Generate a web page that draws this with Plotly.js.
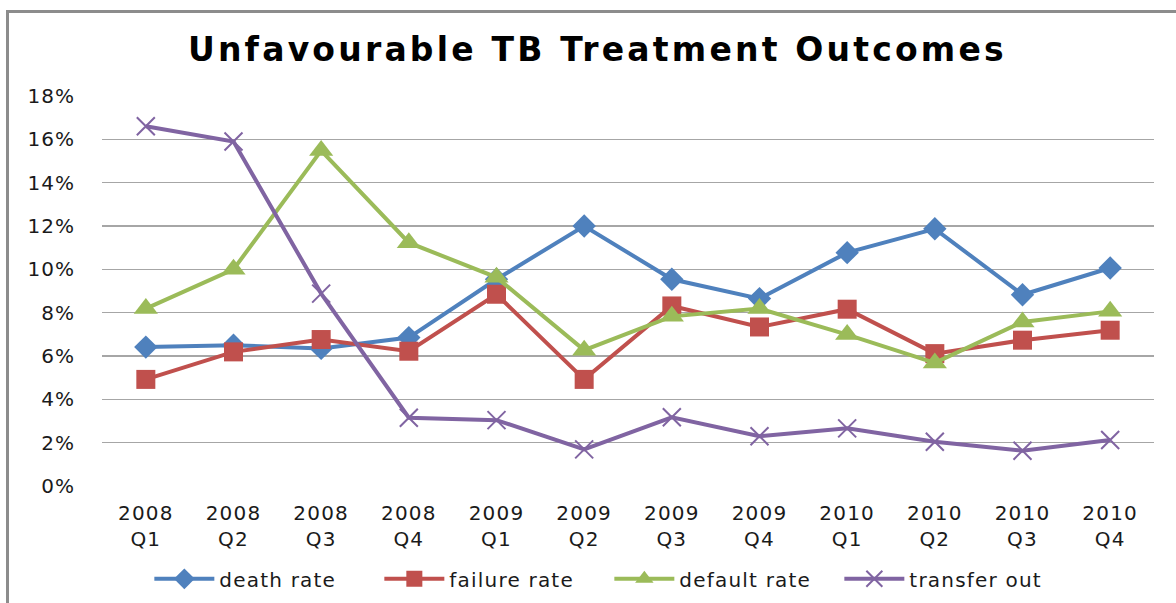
<!DOCTYPE html>
<html>
<head>
<meta charset="utf-8">
<script src="https://cdn.plot.ly/plotly-3.0.1.min.js"></script>
<style>
  html, body { margin: 0; padding: 0; background: #fff; }
  #wrap { position: relative; width: 1176px; height: 603px; }
  #chart { width: 1176px; height: 603px; }
  #frame { position: absolute; left: 6px; top: 10px; right: 0; bottom: 0;
           border-top: 3px solid #8c8c8c; border-left: 3px solid #8c8c8c; pointer-events: none; }
  .gtitle { letter-spacing: 3.2px; }
  .xtick text { letter-spacing: 1.2px; }
  .ytick text { letter-spacing: 1px; }
  .legendtext { letter-spacing: 1.2px; }
</style>
</head>
<body>
<div id="wrap"><div id="chart"></div><div id="frame"></div></div>
<script>
const categories = ["2008<br>Q1","2008<br>Q2","2008<br>Q3","2008<br>Q4",
                    "2009<br>Q1","2009<br>Q2","2009<br>Q3","2009<br>Q4",
                    "2010<br>Q1","2010<br>Q2","2010<br>Q3","2010<br>Q4"];
const deathRate   = [0.0641, 0.0650, 0.0635, 0.0685, 0.0954, 0.1200, 0.0954, 0.0865, 0.1077, 0.1187, 0.0883, 0.1006];
const failureRate = [0.0492, 0.0619, 0.0676, 0.0622, 0.0885, 0.0492, 0.0831, 0.0734, 0.0816, 0.0611, 0.0673, 0.0719];
const defaultRate = [0.0819, 0.1000, 0.1548, 0.1123, 0.0963, 0.0627, 0.0783, 0.0819, 0.0699, 0.0568, 0.0757, 0.0806];
const transferOut = [0.1660, 0.1590, 0.0888, 0.0315, 0.0304, 0.0169, 0.0317, 0.0230, 0.0266, 0.0204, 0.0163, 0.0212];

const lineW = 4;
const traces = [
  { name: "death rate", y: deathRate, color: "#4F81BD", symbol: "diamond", size: 18 },
  { name: "failure rate", y: failureRate, color: "#C0504D", symbol: "square", size: 19 },
  { name: "default rate", y: defaultRate, color: "#9BBB59", symbol: "triangle-up", size: 21 },
  { name: "transfer out", y: transferOut, color: "#8064A2", symbol: "x-thin", size: 18 }
].map(s => ({
  type: "scatter",
  mode: "lines+markers",
  name: s.name,
  x: categories,
  y: s.y,
  line: { color: s.color, width: lineW },
  marker: { symbol: s.symbol, size: s.size, color: s.color,
            line: { color: s.color, width: s.symbol === "x-thin" ? 2 : 0 } },
  cliponaxis: false
}));

const layout = {
  width: 1176, height: 603,
  margin: { l: 102, r: 22, t: 96, b: 117, autoexpand: false },
  paper_bgcolor: "#ffffff",
  plot_bgcolor: "#ffffff",
  showlegend: true,
  title: {
    text: "<b>Unfavourable TB Treatment Outcomes</b>",
    font: { family: "DejaVu Sans", size: 33, color: "#000000" },
    x: 0.508, xanchor: "center",
    y: 0.918, yanchor: "middle", yref: "container"
  },
  xaxis: {
    type: "category",
    range: [-0.5, 11.5],
    automargin: false,
    showgrid: false,
    zeroline: false,
    showline: false,
    ticks: "outside",
    ticklen: 9,
    tickcolor: "rgba(0,0,0,0)",
    tickfont: { family: "DejaVu Sans", size: 20, color: "#1a1a1a" },
    fixedrange: true
  },
  yaxis: {
    range: [0, 0.18],
    dtick: 0.02,
    tick0: 0,
    tickformat: ".0%",
    automargin: false,
    showgrid: true,
    gridcolor: "#a6a6a6",
    gridwidth: 1.3,
    zeroline: false,
    showline: false,
    ticks: "outside",
    ticklen: 22,
    tickcolor: "rgba(0,0,0,0)",
    tickfont: { family: "DejaVu Sans", size: 20, color: "#1a1a1a" },
    fixedrange: true
  },
  legend: {
    orientation: "h",
    x: 0.045, xanchor: "left",
    y: -0.238, yanchor: "middle",
    font: { family: "DejaVu Sans", size: 20, color: "#1a1a1a" },
    itemwidth: 60,
    entrywidth: 155,
    entrywidthmode: "pixels",
    traceorder: "normal"
  }
};

Plotly.newPlot("chart", traces, layout, { displayModeBar: false, staticPlot: true });
</script>
</body>
</html>
